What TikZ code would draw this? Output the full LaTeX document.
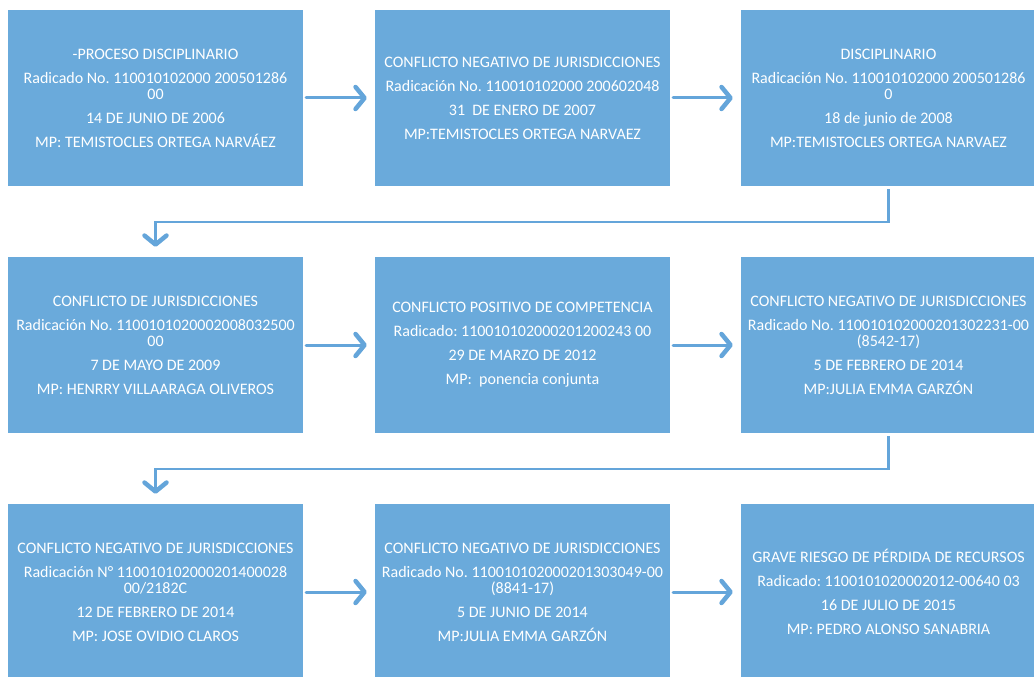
\documentclass[tikz,border=0pt]{standalone}
\usepackage{fontspec}
\setmainfont{Carlito}
\frenchspacing
\usetikzlibrary{arrows.meta}
\definecolor{boxblue}{RGB}{106,170,219}
\definecolor{arrowblue}{RGB}{100,165,218}
\begin{document}
\begin{tikzpicture}[x=1pt,y=-1pt,
        caso/.style={fill=boxblue, draw=none, text=white, minimum width=295pt, minimum height=176pt,
            align=center, font=\fontsize{16}{16}\selectfont, inner sep=0pt},
        flecha/.style={arrowblue, line width=3pt, line cap=round, shorten <=3pt, shorten >=8pt,
            -{Straight Barb[round, length=9pt, width=22pt, line width=4.5pt]}},
        codo/.style={flecha, line width=2.5pt, line cap=butt, shorten >=10pt}]
    \useasboundingbox (0,0) rectangle (1034,677);

    % primera fila
    \node[caso] (c1) at (155.5,98) {-PROCESO DISCIPLINARIO\\[8pt]
        Radicado No. 110010102000 200501286\\ 00\\[8pt]
        14 DE JUNIO DE 2006\\[8pt]
        MP: TEMISTOCLES ORTEGA NARVÁEZ};
    \node[caso] (c2) at (522.5,98) {CONFLICTO NEGATIVO DE JURISDICCIONES\\[8pt]
        Radicación No. 110010102000 200602048\\[8pt]
        31~ DE ENERO DE 2007\\[8pt]
        MP:TEMISTOCLES ORTEGA NARVAEZ};
    \node[caso] (c3) at (888.5,98) {DISCIPLINARIO\\[8pt]
        Radicación No. 110010102000 200501286\\ 0\\[8pt]
        18 de junio de 2008\\[8pt]
        MP:TEMISTOCLES ORTEGA NARVAEZ};

    % segunda fila
    \node[caso] (c4) at (155.5,345) {CONFLICTO DE JURISDICCIONES\\[8pt]
        Radicación No. 1100101020002008032500\\ 00\\[8pt]
        7 DE MAYO DE 2009\\[8pt]
        MP: HENRRY VILLAARAGA OLIVEROS};
    \node[caso] (c5) at (522.5,345) {CONFLICTO POSITIVO DE COMPETENCIA\\[8pt]
        Radicado: 110010102000201200243 00\\[8pt]
        29 DE MARZO DE 2012\\[8pt]
        MP:~ ponencia conjunta};
    \node[caso] (c6) at (888.5,345) {CONFLICTO NEGATIVO DE JURISDICCIONES\\[8pt]
        Radicado No. 110010102000201302231-00\\ (8542-17)\\[8pt]
        5 DE FEBRERO DE 2014\\[8pt]
        MP:JULIA EMMA GARZÓN};

    % tercera fila
    \node[caso] (c7) at (155.5,592) {CONFLICTO NEGATIVO DE JURISDICCIONES\\[8pt]
        Radicación N° 110010102000201400028\\ 00/2182C\\[8pt]
        12 DE FEBRERO DE 2014\\[8pt]
        MP: JOSE OVIDIO CLAROS};
    \node[caso] (c8) at (522.5,592) {CONFLICTO NEGATIVO DE JURISDICCIONES\\[8pt]
        Radicado No. 110010102000201303049-00\\ (8841-17)\\[8pt]
        5 DE JUNIO DE 2014\\[8pt]
        MP:JULIA EMMA GARZÓN};
    \node[caso] (c9) at (888.5,592) {GRAVE RIESGO DE PÉRDIDA DE RECURSOS\\[8pt]
        Radicado: 1100101020002012-00640 03\\[8pt]
        16 DE JULIO DE 2015\\[8pt]
        MP: PEDRO ALONSO SANABRIA};

    \draw[flecha] (c1) -- (c2);
    \draw[flecha] (c2) -- (c3);
    \draw[codo] (c3.south) -- ++(0,36) -| (c4.north);
    \draw[flecha] (c4) -- (c5);
    \draw[flecha] (c5) -- (c6);
    \draw[codo] (c6.south) -- ++(0,36) -| (c7.north);
    \draw[flecha] (c7) -- (c8);
    \draw[flecha] (c8) -- (c9);
\end{tikzpicture}
\end{document}
